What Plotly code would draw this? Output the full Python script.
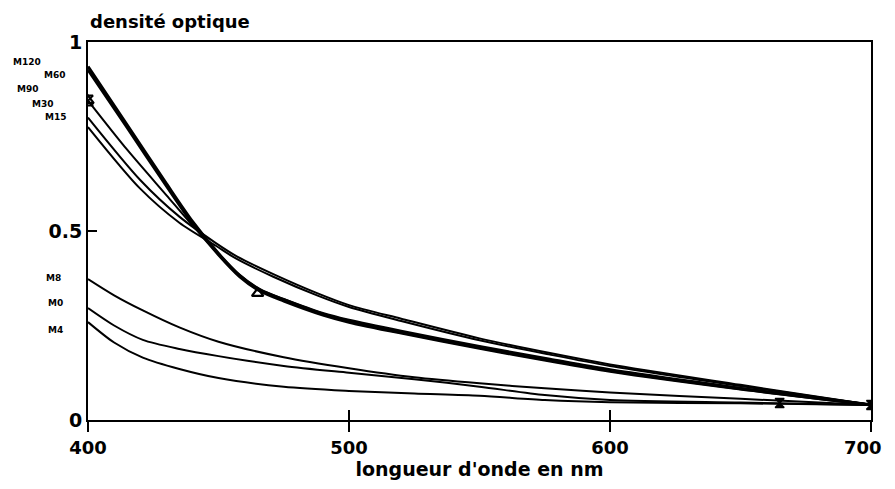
import plotly.graph_objects as go

# wavelengths (nm) and optical density values
wl_steep = [400, 415, 430, 440, 450, 458, 466, 475, 490, 500, 520, 550, 577, 600, 650, 700]
M120 = [0.935, 0.78, 0.625, 0.525, 0.44, 0.383, 0.344, 0.318, 0.280, 0.262, 0.232, 0.192, 0.158, 0.131, 0.083, 0.040]
M60 = [0.925, 0.772, 0.618, 0.519, 0.436, 0.379, 0.340, 0.314, 0.277, 0.258, 0.229, 0.189, 0.155, 0.128, 0.081, 0.040]
M90 = [0.845, 0.715, 0.595, 0.515, 0.44, 0.384, 0.345, 0.320, 0.283, 0.265, 0.236, 0.196, 0.162, 0.134, 0.085, 0.040]

wl_flat = [400, 420, 435, 449, 457, 471, 488, 500, 520, 550, 577, 600, 650, 700]
M30 = [0.80, 0.635, 0.538, 0.468, 0.433, 0.386, 0.335, 0.304, 0.268, 0.216, 0.177, 0.147, 0.093, 0.040]
M15 = [0.775, 0.612, 0.522, 0.461, 0.426, 0.379, 0.329, 0.299, 0.262, 0.211, 0.173, 0.143, 0.090, 0.040]

wl_low = [400, 410, 421, 435, 450, 475, 500, 525, 550, 575, 600, 650, 700]
M8 = [0.373, 0.33, 0.29, 0.245, 0.207, 0.166, 0.137, 0.113, 0.097, 0.084, 0.073, 0.056, 0.040]
M0 = [0.296, 0.25, 0.212, 0.188, 0.169, 0.143, 0.125, 0.108, 0.088, 0.066, 0.053, 0.046, 0.040]
M4 = [0.259, 0.205, 0.165, 0.135, 0.111, 0.088, 0.077, 0.070, 0.064, 0.053, 0.047, 0.044, 0.040]

series = [("M120", wl_steep, M120, 3.2), ("M60", wl_steep, M60, 2.4), ("M90", wl_steep, M90, 2.0),
          ("M30", wl_flat, M30, 2.0), ("M15", wl_flat, M15, 2.0),
          ("M8", wl_low, M8, 2.0), ("M0", wl_low, M0, 2.0), ("M4", wl_low, M4, 2.0)]

# markers
tri_x = [400, 465]
tri_y = [0.845, 0.335]
dot_x = [665, 700]
dot_y = [0.045, 0.040]

# curve labels at the left of the axis
label_names = ["M120", "M60", "M90", "M30", "M15", "M8", "M0", "M4"]
label_y = [0.947, 0.913, 0.876, 0.836, 0.802, 0.376, 0.310, 0.238]
label_shift = [-45, -21, -48, -33, -20, -25, -23, -23]

x_ticks = [400, 500, 600, 700]
x_tick_text = ["400", "500", "600", ""]   # last label drawn as an annotation so it stays inside the page
last_x_label = "700"
y_ticks = [0, 0.5, 1]
y_tick_text = ["0", "0.5", "1"]

FONT = "DejaVu Sans"

fig = go.Figure()
for name, xs, ys, w in series:
    fig.add_trace(go.Scatter(x=xs, y=ys, mode="lines", name=name,
                             line=dict(color="black", width=w, shape="spline", smoothing=0.8),
                             hoverinfo="skip"))
fig.add_trace(go.Scatter(x=tri_x, y=tri_y, mode="markers",
                         marker=dict(symbol="triangle-up-open", size=10, color="black",
                                     line=dict(width=2.2, color="black"))))
fig.add_trace(go.Scatter(x=tri_x[:1], y=tri_y[:1], mode="markers",
                         marker=dict(symbol="hourglass-open", size=10, color="black",
                                     line=dict(width=2, color="black"))))
fig.add_trace(go.Scatter(x=dot_x, y=dot_y, mode="markers",
                         marker=dict(symbol="hourglass", size=9, color="black",
                                     line=dict(width=1.5, color="black"))))
# invisible trace on the overlay axis so its ticks render
fig.add_trace(go.Scatter(x=x_ticks, y=[None] * len(x_ticks), xaxis="x2", showlegend=False))

for name, yv, sh in zip(label_names, label_y, label_shift):
    fig.add_annotation(x=400, y=yv, xref="x", yref="y", text=name, showarrow=False,
                       xanchor="right", xshift=sh, font=dict(family=FONT, size=9, color="black", weight="bold"))

fig.add_annotation(x=x_ticks[-1], y=0, xref="x", yref="paper", text=last_x_label, showarrow=False,
                   xanchor="right", yanchor="top", xshift=13, yshift=-15,
                   font=dict(family=FONT, size=18, color="black", weight="bold"))

fig.add_annotation(x=0, y=1, xref="paper", yref="paper", text="densité optique", showarrow=False,
                   xanchor="left", yanchor="bottom", yshift=8,
                   font=dict(family=FONT, size=18, color="black", weight="bold"))

fig.update_layout(
    width=879, height=473,
    margin=dict(l=80, r=16, t=34, b=61),
    plot_bgcolor="white", paper_bgcolor="white",
    showlegend=False,
    font=dict(family=FONT, color="black"),
    xaxis=dict(range=[400, 700], tickvals=x_ticks, ticktext=x_tick_text, ticks="outside", ticklen=10,
               tickwidth=2, tickcolor="black", showgrid=False, zeroline=False, showline=True, linewidth=2,
               linecolor="black", mirror=True, automargin=False,
               tickfont=dict(family=FONT, size=18, color="black", weight="bold"),
               title=dict(text="longueur d'onde en nm", standoff=2,
                          font=dict(family=FONT, size=19, color="black", weight="bold"))),
    xaxis2=dict(range=[400, 700], overlaying="x", tickvals=x_ticks[1:3], ticks="inside",
                ticklen=10, tickwidth=2, tickcolor="black", showticklabels=False,
                showgrid=False, zeroline=False, side="bottom", anchor="y", automargin=False),
    yaxis=dict(range=[0, 1], tickvals=y_ticks, ticktext=y_tick_text, ticks="inside", ticklen=9,
               tickwidth=2, tickcolor="black", showgrid=False, zeroline=False, showline=True,
               linewidth=2, linecolor="black", mirror=True, automargin=False,
               tickfont=dict(family=FONT, size=19, color="black", weight="bold")),
)

fig.write_html("out.html")
